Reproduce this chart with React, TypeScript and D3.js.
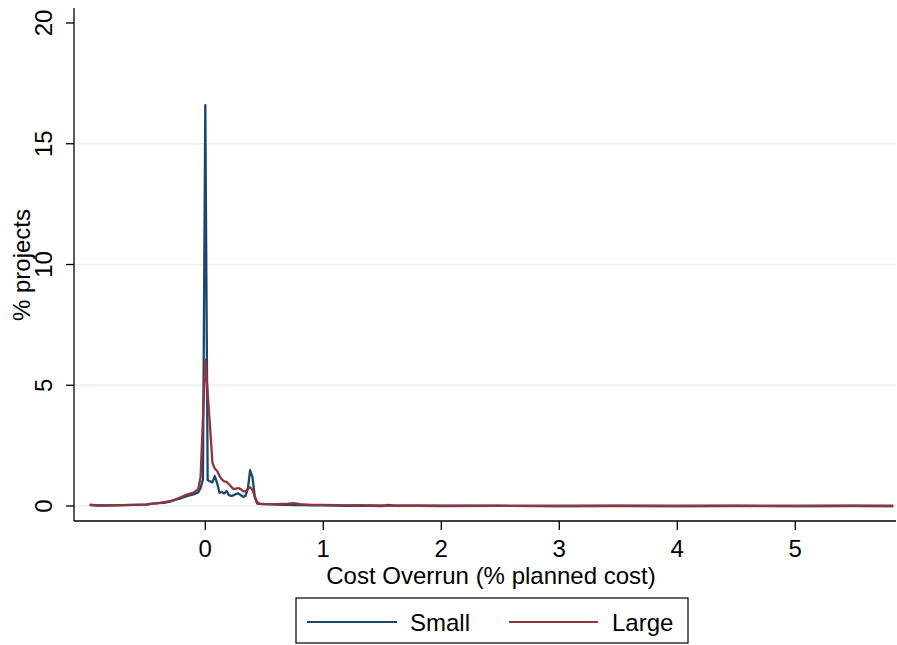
import React from "react";
import * as d3 from "d3";

const smallX = [-0.98, -0.9, -0.8, -0.7, -0.6, -0.5, -0.45, -0.4, -0.35, -0.3, -0.25, -0.2, -0.15, -0.1, -0.06, -0.04, -0.02, 0, 0.02, 0.04, 0.06, 0.08, 0.1, 0.12, 0.14, 0.16, 0.18, 0.2, 0.22, 0.24, 0.26, 0.28, 0.3, 0.32, 0.34, 0.36, 0.38, 0.4, 0.42, 0.44, 0.48, 0.55, 0.6, 0.65, 0.7, 0.75, 0.8, 0.9, 1.0, 1.1, 1.2, 1.3, 1.4, 1.5, 1.55, 1.6, 1.8, 2.0, 2.5, 3.0, 3.5, 4.0, 4.5, 5.0, 5.5, 5.83];
const smallY = [0.04, 0.02, 0.03, 0.04, 0.05, 0.06, 0.1, 0.12, 0.13, 0.18, 0.26, 0.33, 0.42, 0.48, 0.56, 0.75, 1.1, 16.6, 1.08, 1.02, 0.98, 1.24, 0.95, 0.55, 0.58, 0.52, 0.62, 0.45, 0.42, 0.44, 0.5, 0.52, 0.45, 0.38, 0.42, 0.7, 1.48, 1.2, 0.35, 0.1, 0.08, 0.07, 0.06, 0.05, 0.06, 0.04, 0.05, 0.03, 0.03, 0.02, 0.01, 0.02, 0.01, 0.0, 0.05, 0.01, 0.01, 0.0, 0.01, 0.0, 0.01, 0.0, 0.01, 0.0, 0.01, 0.0];

const largeX = [-0.98, -0.9, -0.8, -0.7, -0.6, -0.5, -0.4, -0.3, -0.25, -0.2, -0.15, -0.1, -0.06, -0.04, -0.02, 0, 0.02, 0.04, 0.06, 0.08, 0.1, 0.12, 0.14, 0.16, 0.18, 0.2, 0.22, 0.24, 0.26, 0.28, 0.3, 0.32, 0.34, 0.36, 0.38, 0.4, 0.42, 0.44, 0.46, 0.5, 0.6, 0.7, 0.75, 0.8, 0.9, 1.0, 1.2, 1.4, 1.6, 2.0, 3.0, 4.0, 5.0, 5.83];
const largeY = [0.06, 0.03, 0.03, 0.04, 0.05, 0.07, 0.12, 0.2, 0.28, 0.38, 0.48, 0.55, 0.7, 1.2, 3.6, 6.06, 4.7, 3.3, 1.8, 1.55, 1.45, 1.25, 1.1, 1.02, 1.0, 0.9, 0.8, 0.7, 0.72, 0.74, 0.7, 0.62, 0.6, 0.72, 0.78, 0.66, 0.4, 0.15, 0.1, 0.09, 0.08, 0.1, 0.12, 0.08, 0.05, 0.05, 0.03, 0.02, 0.01, 0.01, 0.0, 0.0, 0.0, 0.0];

const xTicks = [0, 1, 2, 3, 4, 5];
const yTicks = [0, 5, 10, 15, 20];
const yGrid = [0, 5, 10, 15];

const BLUE = "#1a476f";
const RED = "#90353b";
const FONT = "'Liberation Sans', Arial, Helvetica, sans-serif";
const FS = 24;

export default function App() {
  const W = 897, H = 645;
  const left = 74, right = 896, top = 8, bottom = 521;
  const x = d3.scaleLinear().domain([-1, 0]).range([87.3, 205.3]);
  const y = d3.scaleLinear().domain([0, 20]).range([506, 23]);

  const line = d3.line<[number, number]>().x(d => x(d[0])).y(d => y(d[1]));
  const smallPts = smallX.map((v, i) => [v, smallY[i]] as [number, number]);
  const largePts = largeX.map((v, i) => [v, largeY[i]] as [number, number]);

  return (
    <svg width={W} height={H} style={{ position: "absolute", left: 0, top: 0, background: "#fff" }} fontFamily={FONT}>
      <rect x={0} y={0} width={W} height={H} fill="#fff" />
      {yGrid.map(t => (
        <line key={"g" + t} x1={left + 1} x2={right} y1={y(t)} y2={y(t)} stroke="#e8f0f2" strokeWidth={1.6} />
      ))}
      <path d={line(smallPts) || ""} fill="none" stroke={BLUE} strokeWidth={2.3} strokeLinejoin="round" />
      <path d={line(largePts) || ""} fill="none" stroke={RED} strokeWidth={2.3} strokeLinejoin="round" />
      {/* axes */}
      <line x1={left} x2={left} y1={top} y2={bottom} stroke="#000" strokeWidth={1.3} />
      <line x1={left} x2={right} y1={bottom} y2={bottom} stroke="#000" strokeWidth={1.3} />
      {yTicks.map(t => (
        <g key={"y" + t}>
          <line x1={left - 8} x2={left} y1={y(t)} y2={y(t)} stroke="#000" strokeWidth={1.3} />
          <text transform={`translate(${43},${y(t)}) rotate(-90)`} textAnchor="middle" dy="0.36em" fontSize={FS}>{t}</text>
        </g>
      ))}
      {xTicks.map(t => (
        <g key={"x" + t}>
          <line x1={x(t)} x2={x(t)} y1={bottom} y2={bottom + 9} stroke="#000" strokeWidth={1.3} />
          <text x={x(t)} y={557} textAnchor="middle" fontSize={FS}>{t}</text>
        </g>
      ))}
      <text transform={`translate(${21},${265}) rotate(-90)`} textAnchor="middle" dy="0.36em" fontSize={FS}>% projects</text>
      <text x={491} y={584} textAnchor="middle" fontSize={FS}>Cost Overrun (% planned cost)</text>
      {/* legend */}
      <rect x={296} y={598} width={392} height={45} fill="#fff" stroke="#000" strokeWidth={1.2} />
      <line x1={307} x2={397} y1={622} y2={622} stroke={BLUE} strokeWidth={2} />
      <text x={410} y={631} fontSize={FS}>Small</text>
      <line x1={509} x2={598} y1={622} y2={622} stroke={RED} strokeWidth={2} />
      <text x={612} y={631} fontSize={FS}>Large</text>
    </svg>
  );
}
